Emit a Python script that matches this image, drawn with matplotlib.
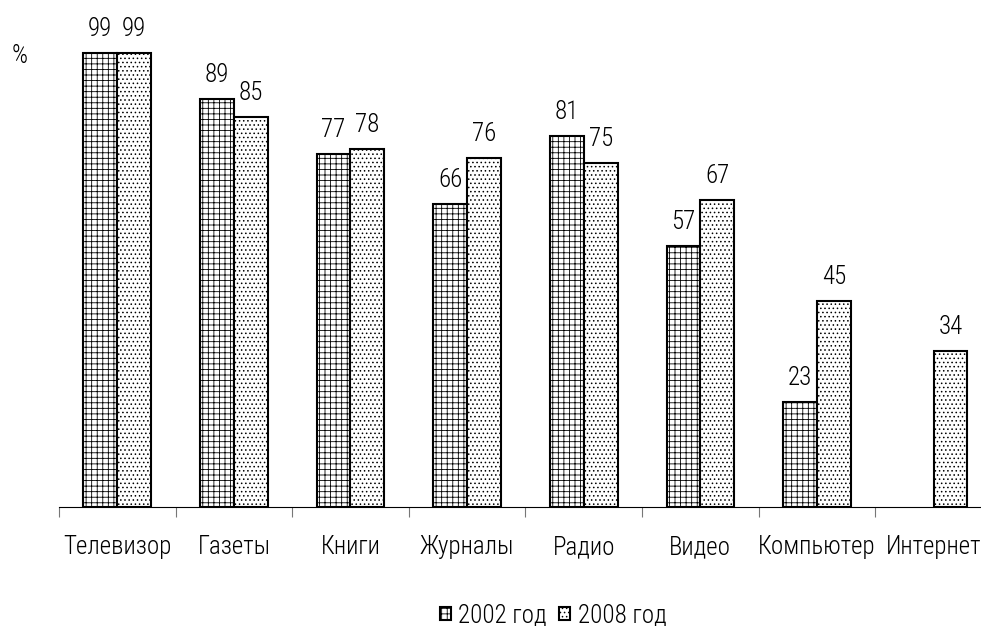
import numpy as np
import matplotlib.pyplot as plt

plt.rcParams['font.family'] = ['Roboto Condensed', 'DejaVu Sans']
plt.rcParams['font.weight'] = 300
plt.rcParams['hatch.linewidth'] = 0.6

# Daten
categories = ["Телевизор", "Газеты", "Книги", "Журналы", "Радио", "Видео", "Компьютер", "Интернет"]
values_2002 = [99, 89, 77, 66, 81, 57, 23, np.nan]
values_2008 = [99, 85, 78, 76, 75, 67, 45, 34]
series_names = ["2002 год", "2008 год"]

x = np.arange(len(categories))
w = 0.29
fs = 18

fig = plt.figure(figsize=(9.81, 6.26), dpi=100)
ax = fig.add_axes([0.0601, 0.1901, 0.951, 0.7326])

b1 = ax.bar(x - w / 2, values_2002, w, color="white", edgecolor="black", linewidth=1.5,
            hatch="+++", label=series_names[0])
b2 = ax.bar(x + w / 2, values_2008, w, color="white", edgecolor="black", linewidth=1.5,
            hatch="....", label=series_names[1])

for bars, vals in ((b1, values_2002), (b2, values_2008)):
    for rect, v in zip(bars, vals):
        if np.isnan(v):
            continue
        ax.text(rect.get_x() + rect.get_width() / 2, v + 3.7, f"{v:.0f}",
                ha="center", va="baseline", fontsize=fs)

ax.set_xlim(-0.5, len(categories) - 0.5)
ax.set_ylim(0, 100)
ax.set_yticks([])
for s in ["top", "right", "left"]:
    ax.spines[s].set_visible(False)
ax.spines["bottom"].set_color("black")
ax.spines["bottom"].set_clip_on(False)

ax.set_xticks(np.arange(len(categories) + 1) - 0.5)
ax.set_xticklabels([])
ax.tick_params(axis="x", length=7, color="#777777")
for i, c in enumerate(categories):
    ax.text(i, -10.25, c, ha="center", va="baseline", fontsize=fs)

fig.text(20 / 981, 1 - 56 / 626, "%", ha="center", va="center", fontsize=fs)

fig.legend(handles=[b1, b2], loc="center left", bbox_to_anchor=(440 / 981, 1 - 615 / 626), ncol=2,
           frameon=False, fontsize=fs, handlelength=0.42, handleheight=0.42,
           handletextpad=0.32, columnspacing=0.48, borderpad=0, borderaxespad=0)

fig.savefig("out.png", dpi=100)
